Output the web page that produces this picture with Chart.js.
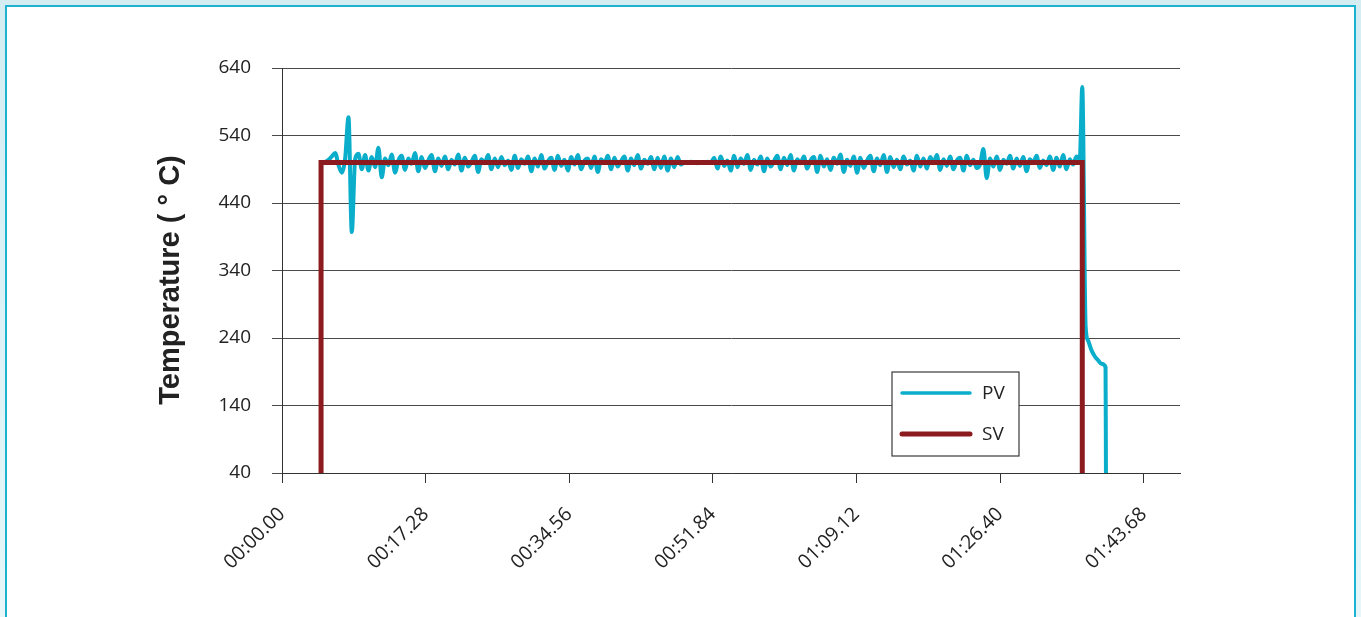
<!DOCTYPE html>
<html>
<head>
<meta charset="utf-8">
<title>Temperature PV / SV</title>
<script src="https://cdn.jsdelivr.net/npm/chart.js@4.4.1/dist/chart.umd.min.js"></script>
<style>
  html, body { margin: 0; padding: 0; }
  body {
    width: 1361px; height: 617px; overflow: hidden; position: relative;
    background: linear-gradient(180deg, #d3edf3 0%, #e6f6f9 100%);
  }
  .frame {
    position: absolute; left: 5px; top: 5px; width: 1347px; height: 700px;
    border: 2px solid #1cb2d2; background: #fff;
  }
  #tempChart { position: absolute; left: 0; top: 0; }
</style>
</head>
<body>
<div class="frame"></div>
<canvas id="tempChart" width="1361" height="617"></canvas>
<script>
'use strict';

// --- data ---
const xTickValues = [0, 17.28, 34.56, 51.84, 69.12, 86.40, 103.68];
const xTickLabels = ['00:00.00', '00:17.28', '00:34.56', '00:51.84', '01:09.12', '01:26.40', '01:43.68'];
const yTickValues = [40, 140, 240, 340, 440, 540, 640];
const yTitle = 'Temperature ( \u00B0 C)';

// set value (SV): step on, hold, step off
const svTime = [4.7, 4.7, 96.3, 96.3];
const svTemp = [40, 500, 500, 40];

// process value (PV): logged every 0.4 s from 4.8 s
const pvStart = 4.8;
const pvStep = 0.4;
const pvTemp = [
    500, 501, 504, 509, 514, 496, 485, 506, 567, 397,
    505, 513, 490, 511, 488, 508, 493, 522, 478, 506,
    496, 512, 485, 503, 510, 489, 506, 498, 514, 487,
    508, 492, 503, 511, 487, 506, 495, 509, 490, 504,
    497, 512, 488, 507, 494, 501, 510, 486, 505, 499,
    511, 490, 506, 493, 508, 496, 503, 489, 510, 492,
    505, 498, 509, 487, 506, 494, 511, 491, 502, 507,
    489, 510, 495, 504, 488, 508, 497, 511, 490, 503,
    506, 492, 509, 486, 505, 499, 510, 490, 507, 494,
    502, 509, 488, 506, 496, 511, 491, 504, 498, 508,
    490, 507, 492, 509, 488, 506, 493, 508, 497,
    500, 500, 501, 500, 499, 500, 500, 501, 500,
    507, 491, 509, 495, 503, 488, 510, 493, 506, 498,
    511, 489, 504, 497, 509, 487, 506, 494, 502, 510,
    490, 507, 496, 511, 488, 505, 499, 509, 491, 503,
    508, 486, 510, 494, 505, 489, 507, 498, 512, 486,
    504, 495, 509, 485, 507, 492, 503, 510, 487, 506,
    496, 511, 486, 508, 493, 504, 490, 509, 497, 503,
    488, 510, 494, 506, 491, 508, 499, 511, 489, 505,
    495, 509, 490, 503, 507, 488, 510, 496, 504, 492,
    497, 520, 477, 506, 494, 509, 489, 504, 498, 510,
    491, 506, 495, 508, 487, 505, 500, 510, 492, 503,
    496, 509, 489, 507, 494, 511, 490, 505, 497, 509, 505
];
// overshoot and cool-down after the set value is switched off
const pvTailTime = [96.3, 96.7, 97.0, 97.4, 97.8, 98.2, 98.6, 99.1, 99.15];
const pvTailTemp = [612, 258, 236, 222, 213, 207, 202, 197, 40];

const pvPoints = pvTemp.map((v, i) => ({ x: pvStart + i * pvStep, y: v }))
    .concat(pvTailTime.map((t, i) => ({ x: t, y: pvTailTemp[i] })));
const svPoints = svTime.map((t, i) => ({ x: t, y: svTemp[i] }));

const textColor = '#222';
const tickFont = { family: 'Open Sans', size: 19 };

// Boxed legend sitting inside the plot area
const boxLegend = {
    id: 'boxLegend',
    afterDraw(chart, args, opts) {
        const ctx = chart.ctx;
        ctx.save();
        ctx.fillStyle = '#fff';
        ctx.fillRect(opts.x, opts.y, opts.w, opts.h);
        ctx.strokeStyle = '#3a3a3a';
        ctx.lineWidth = 1.2;
        ctx.strokeRect(opts.x, opts.y, opts.w, opts.h);
        ctx.font = '19px "Open Sans"';
        ctx.textBaseline = 'middle';
        chart.data.datasets.forEach((ds, i) => {
            const y = opts.y + opts.rowTop + i * opts.rowGap;
            ctx.strokeStyle = ds.borderColor;
            ctx.lineWidth = opts.lineWidths[i];
            ctx.lineCap = 'round';
            ctx.beginPath();
            ctx.moveTo(opts.x + 10, y);
            ctx.lineTo(opts.x + 78, y);
            ctx.stroke();
            ctx.fillStyle = textColor;
            ctx.fillText(ds.label, opts.x + 90, y + 1);
        });
        ctx.restore();
    }
};

// Vertical axis title, placed a little below the axis middle like the original
const axisTitle = {
    id: 'axisTitle',
    afterDraw(chart, args, opts) {
        const ctx = chart.ctx;
        ctx.save();
        ctx.translate(opts.x, opts.y);
        ctx.rotate(-Math.PI / 2);
        ctx.font = 'bold 29px "Liberation Sans", Arial, sans-serif';
        ctx.fillStyle = textColor;
        ctx.textAlign = 'center';
        ctx.textBaseline = 'middle';
        ctx.fillText(opts.text, 0, 0);
        ctx.restore();
    }
};

new Chart(document.getElementById('tempChart'), {
    type: 'line',
    data: {
        datasets: [{
            label: 'PV',
            data: pvPoints,
            borderColor: '#0aaeca',
            borderWidth: 4,
            pointRadius: 0,
            cubicInterpolationMode: 'monotone',
            borderJoinStyle: 'round',
            borderCapStyle: 'round',
            order: 1
        }, {
            label: 'SV',
            data: svPoints,
            borderColor: '#8c1b1f',
            borderWidth: 5,
            pointRadius: 0,
            tension: 0,
            borderJoinStyle: 'miter',
            borderCapStyle: 'round',
            order: 0
        }]
    },
    options: {
        responsive: false,
        animation: false,
        devicePixelRatio: 1,
        layout: { padding: { top: 68, right: 181, bottom: 0, left: 0 } },
        plugins: {
            legend: { display: false },
            tooltip: { enabled: false },
            boxLegend: { x: 892, y: 372, w: 127, h: 84, rowTop: 21, rowGap: 41, lineWidths: [3.5, 5] },
            axisTitle: { x: 171, y: 280, text: yTitle }
        },
        scales: {
            x: {
                type: 'linear',
                min: 0,
                max: 108.06,
                afterBuildTicks: scale => { scale.ticks = xTickValues.map(v => ({ value: v })); },
                afterFit: scale => { scale.height = 144; },
                grid: { drawOnChartArea: false, drawTicks: true, tickLength: 10, color: '#333' },
                border: { display: true, color: '#333', width: 1 },
                ticks: {
                    minRotation: 45,
                    maxRotation: 45,
                    autoSkip: false,
                    padding: 20,
                    color: textColor,
                    font: { family: 'Open Sans', size: 19.5 },
                    callback: (value, index) => xTickLabels[index]
                }
            },
            y: {
                min: 40,
                max: 640,
                afterBuildTicks: scale => { scale.ticks = yTickValues.map(v => ({ value: v })); },
                afterFit: scale => { scale.width = 282; },
                grid: { color: '#4a4a4a', tickLength: 10 },
                border: { display: true, color: '#333', width: 1 },
                ticks: {
                    padding: 21,
                    color: textColor,
                    font: tickFont,
                    callback: value => String(value)
                }
            }
        }
    },
    plugins: [boxLegend, axisTitle]
});
</script>
</body>
</html>
